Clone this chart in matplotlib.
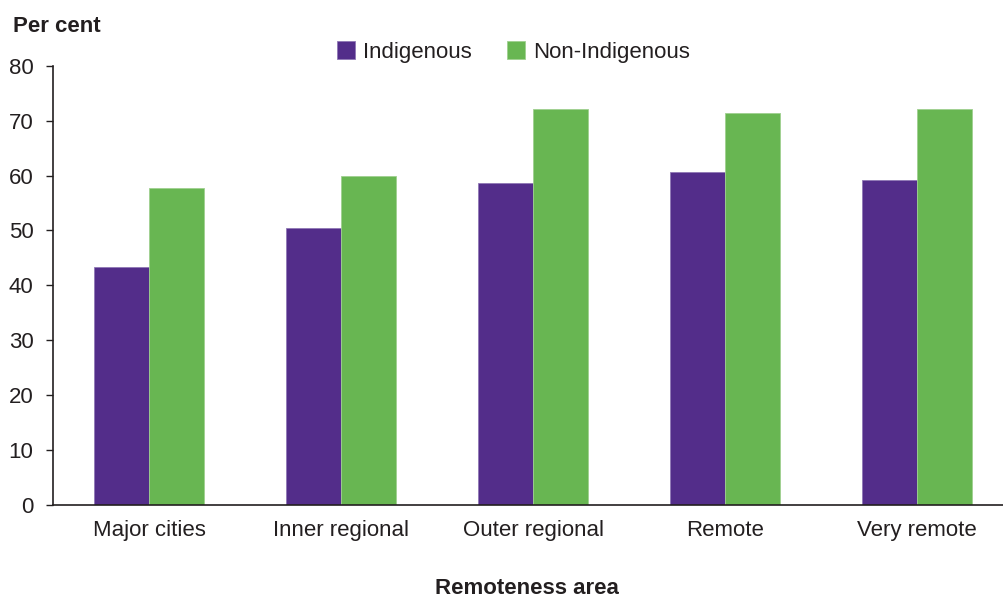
import matplotlib
matplotlib.use("Agg")
import matplotlib.pyplot as plt
import numpy as np

categories = ["Major cities", "Inner regional", "Outer regional", "Remote", "Very remote"]
indigenous = [43.3, 50.4, 58.7, 60.6, 59.1]
non_indigenous = [57.7, 59.9, 72.1, 71.3, 72.1]
yticks = [0, 10, 20, 30, 40, 50, 60, 70, 80]

purple = "#532D8A"
green = "#68B652"
txt = "#231f20"
fs = 16

plt.rcParams['font.family'] = ['Liberation Sans', 'DejaVu Sans']

W, H = 1004, 597
fig = plt.figure(figsize=(W / 100, H / 100), dpi=100)
ax = fig.add_axes([53 / W, (H - 505) / H, (W - 53) / W, (505 - 65.7) / H])

x = np.arange(len(categories))
bw = 0.286
ax.bar(x - bw / 2, indigenous, bw, color=purple, edgecolor="#8f78b5", linewidth=0.6, label="Indigenous")
ax.bar(x + bw / 2, non_indigenous, bw, color=green, edgecolor="#9fd08f", linewidth=0.6, label="Non-Indigenous")

ax.set_xlim(-0.5, 4.453)
ax.set_ylim(0, 80)
ax.set_yticks(yticks)
ax.set_xticks(x)
ax.set_xticklabels(categories, fontsize=fs, color=txt)
ax.tick_params(axis="x", length=0, pad=11)
ax.tick_params(axis="y", length=5, width=1, labelsize=fs, colors=txt, pad=9)
for s in ["top", "right"]:
    ax.spines[s].set_visible(False)
for s in ["left", "bottom"]:
    ax.spines[s].set_linewidth(1.2)
    ax.spines[s].set_color(txt)

fig.text(13 / W, 1 - 27 / H, "Per cent", fontsize=fs, fontweight="bold", va="center", ha="left", color=txt)
fig.text(527 / W, 1 - 588 / H, "Remoteness area", fontsize=fs, fontweight="bold", va="center", ha="center", color=txt)

fig.legend(loc="center", bbox_to_anchor=(513.5 / W, 1 - 52 / H), ncol=2, frameon=False,
           fontsize=fs, handlelength=0.81, handleheight=0.81, handletextpad=0.36, columnspacing=1.62,
           labelcolor=txt, borderpad=0, borderaxespad=0)

fig.savefig("out.png", dpi=100)
